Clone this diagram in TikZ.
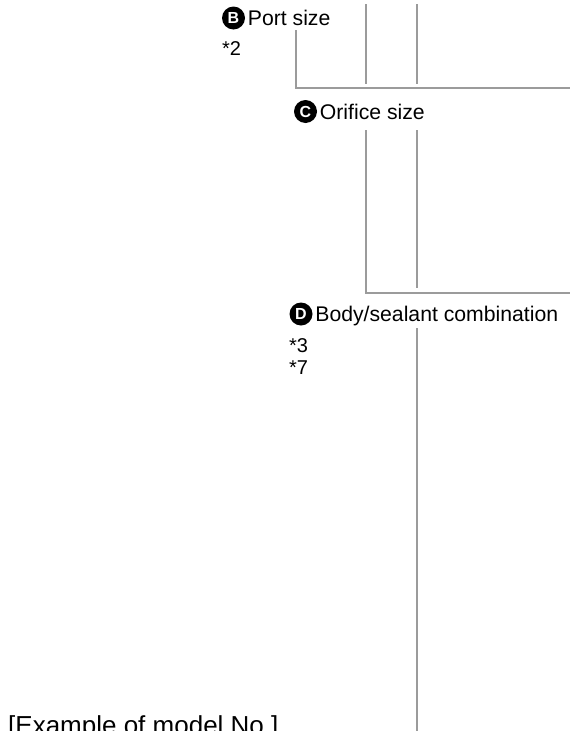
\documentclass[tikz,border=0pt]{standalone}
\usepackage{fontspec}
\setmainfont{Liberation Sans}
\usetikzlibrary{positioning}
\definecolor{leadgray}{RGB}{155,155,155}

\begin{document}
\begin{tikzpicture}[
    x=1pt, y=-1pt,
    badge/.style={circle, fill=black, text=white, minimum size=23pt, inner sep=0pt, font=\fontsize{16}{16}\selectfont\bfseries},
    item/.style={inner sep=0pt, anchor=west, text height=15pt, text depth=0pt, font=\fontsize{21.2}{25}\selectfont},
    note/.style={item, font=\fontsize{20}{24}\selectfont},
    lead/.style={draw=leadgray, line width=2pt},
]
\useasboundingbox (0,0) rectangle (570,731);

% selection items
\node[badge] (badgeB) at (233.5,18) {B};
\node[item, right=2.5pt of badgeB] (portsize) {Port size};
\node[note] (noteB) at (222,48) {*2};

\node[badge] (badgeC) at (305.5,111.5) {C};
\node[item, right=2.5pt of badgeC] (orifice) {Orifice size};

\node[badge] (badgeD) at (301,314) {D};
\node[item, right=2.5pt of badgeD] (body) {Body/sealant combination};
\node[note] (noteDa) at (289,345) {*3};
\node[note] (noteDb) at (289,367) {*7};

\node[anchor=base west, inner sep=0pt, font=\fontsize{26}{30}\selectfont] (example) at (8,734) {[Example of model No.]};

% lead lines
\coordinate (topA) at (366,4);
\coordinate (topB) at (417,4);
\coordinate (endA) at (366,84);
\coordinate (endB) at (417,84);
\coordinate (leadB) at (296,30);
\coordinate (cornerB) at (296,88);
\coordinate (rightB) at (570,88);
\coordinate (leadCa) at (366,130);
\coordinate (leadCb) at (417,130);
\coordinate (cornerC) at (366,293);
\coordinate (rightC) at (570,293);
\coordinate (endCb) at (417,288);
\coordinate (leadD) at (417,328);
\coordinate (bottomD) at (417,731);

\draw[lead] (topA) -- (endA);
\draw[lead] (topB) -- (endB);
\draw[lead] (leadB) -- (cornerB) -- (rightB);
\draw[lead] (leadCa) -- (cornerC) -- (rightC);
\draw[lead] (leadCb) -- (endCb);
\draw[lead] (leadD) -- (bottomD);
\end{tikzpicture}
\end{document}
